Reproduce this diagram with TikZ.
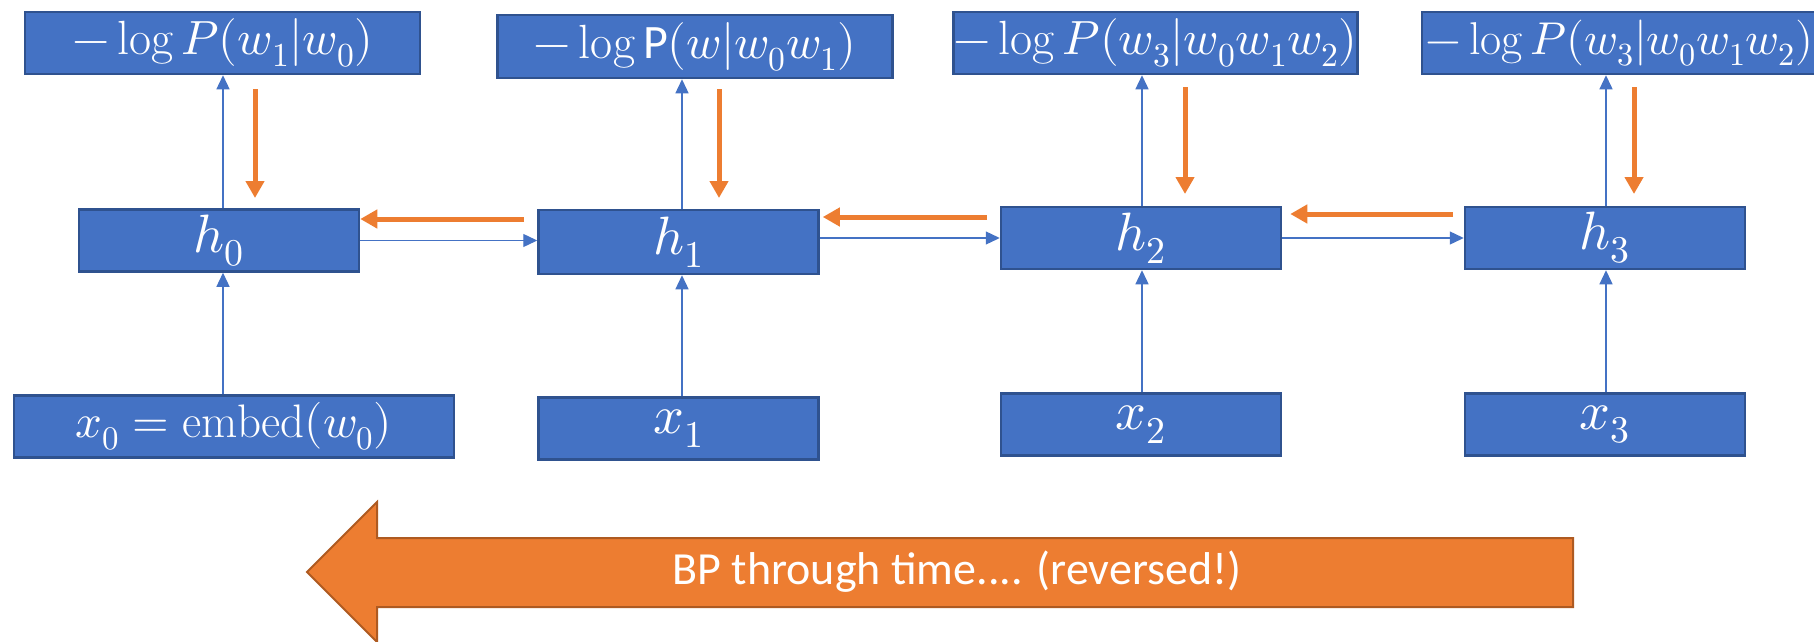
\documentclass[tikz,border=0pt]{standalone}
\usepackage{fontspec}
\usepackage{unicode-math}
\setmathfont{Latin Modern Math}
\setsansfont{Carlito}
\usetikzlibrary{arrows.meta,calc}
\definecolor{boxblue}{HTML}{4472C4}
\definecolor{boxedge}{HTML}{2F528F}
\definecolor{bporange}{HTML}{ED7D31}
\definecolor{bpedge}{HTML}{AE5A21}
\begin{document}
\begin{tikzpicture}[x=1pt,y=-1pt,
  cell/.style={draw=boxedge,fill=boxblue,line width=2.5pt,inner sep=0pt,text=white,minimum height=62pt},
  losscell/.style={cell,minimum width=395pt,font=\fontsize{48}{52}\selectfont},
  statecell/.style={cell,minimum width=280pt,font=\fontsize{54}{58}\selectfont},
  fwd/.style={draw=boxblue,line width=1.3pt,-{Triangle[length=14pt,width=13pt]}},
  bwd/.style={draw=bporange,line width=5pt,-{Triangle[length=17pt,width=18pt]}},
]
\useasboundingbox (0,0) rectangle (1814,642);

% loss terms
\node[losscell] (T0) at (222.5,43) {$-\log P(w_1|w_0)$};
\node[losscell,minimum height=63pt] (T1) at (695,46.5) {$-\log \mathsf{P}(w|w_0w_1)$};
\node[losscell] (T2) at (1155.5,43) {$-\log P(w_3|w_0w_1w_2)$};
\node[losscell,font=\fontsize{46}{50}\selectfont] (T3) at (1619.5,43) {$-\log P(w_3|w_0w_1w_2)$};

% hidden states
\node[statecell] (h0) at (219,240.5) {$h_0$};
\node[statecell,minimum height=64pt] (h1) at (678.5,242) {$h_1$};
\node[statecell] (h2) at (1141,238) {$h_2$};
\node[statecell] (h3) at (1605,238) {$h_3$};

% inputs
\node[statecell,minimum width=440pt,font=\fontsize{47}{52}\selectfont] (x0) at (234,426.5) {$x_0=\mathrm{embed}(w_0)$};
\node[statecell] (x1) at (678.5,428.5) {$x_1$};
\node[statecell] (x2) at (1141,424.5) {$x_2$};
\node[statecell] (x3) at (1605,424.5) {$x_3$};

% forward pass
\foreach \i/\dx in {0/4,1/3.5,2/1,3/1}{
  \draw[fwd] ([xshift=\dx pt]h\i.south |- x\i.north) -- ([xshift=\dx pt]h\i.south);
  \draw[fwd] ([xshift=\dx pt]h\i.north) -- ([xshift=\dx pt]h\i.north |- T\i.south);
}
\draw[fwd] (h0.east) -- (h0.east -| h1.west);
\draw[fwd] (h1.east |- h2.west) -- (h2.west);
\draw[fwd] (h2.east) -- (h3.west);

% backward pass
\coordinate (g0a) at (255,89);  \coordinate (g0b) at (255,198);
\coordinate (g1a) at (719,89);  \coordinate (g1b) at (719,198);
\coordinate (g2a) at (1185,87); \coordinate (g2b) at (1185,194);
\coordinate (g3a) at (1634,87); \coordinate (g3b) at (1634,194);
\foreach \i in {0,1,2,3}{ \draw[bwd] (g\i a) -- (g\i b); }
\coordinate (b1) at (524,219);
\coordinate (b2) at (987,217);
\coordinate (b3) at (1453,214);
\draw[bwd] (b1) -- (b1 -| h0.east);
\draw[bwd] (b2) -- ([xshift=3pt]b2 -| h1.east);
\draw[bwd] (b3) -- ([xshift=8pt]b3 -| h2.east);

% direction of backpropagation
\draw[draw=bpedge,fill=bporange,line width=2pt]
  (1573,538) -- (377,538) -- (377,502) -- (307,572) -- (377,642) -- (377,607) -- (1573,607) -- cycle;
\node[text=white,font=\sffamily\fontsize{46}{50}\selectfont] (bp) at (957,572) {BP through time.... (reversed!)};
\end{tikzpicture}
\end{document}
